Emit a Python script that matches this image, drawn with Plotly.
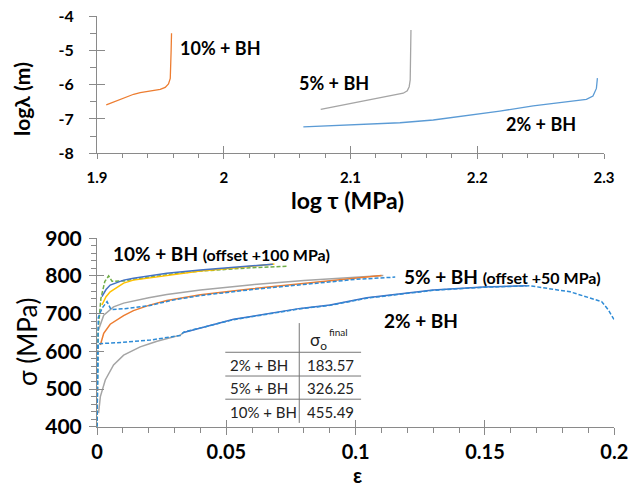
import plotly.graph_objects as go

FONT = "Lato"
AX = "#8a8a8a"

# ---------------- top panel: log tau vs log lambda ----------------
tau_10 = [1.9073, 1.9131, 1.9184, 1.9236, 1.9289, 1.9341, 1.9394, 1.9446, 1.9499, 1.9538, 1.9564, 1.9578, 1.9583, 1.9585, 1.9588]
lam_10 = [-6.59, -6.51, -6.43, -6.35, -6.28, -6.23, -6.20, -6.17, -6.14, -6.08, -5.98, -5.82, -5.48, -4.99, -4.50]

tau_5 = [2.0765, 2.0996, 2.1259, 2.1416, 2.1448, 2.1463, 2.1471, 2.1474, 2.1477]
lam_5 = [-6.72, -6.56, -6.38, -6.25, -6.18, -6.06, -5.86, -5.48, -4.41]

tau_2 = [2.0628, 2.0996, 2.1390, 2.1653, 2.1916, 2.2178, 2.2441, 2.2704, 2.2861, 2.2913, 2.2940, 2.2948]
lam_2 = [-7.23, -7.18, -7.11, -7.03, -6.91, -6.77, -6.62, -6.50, -6.43, -6.33, -6.11, -5.81]

top_xticks = [1.9, 2.0, 2.1, 2.2, 2.3]
top_xticktext = ["1.9", "2", "2.1", "2.2", "2.3"]
top_yticks = [-8, -7, -6, -5, -4]
top_yticktext = ["-8", "-7", "-6", "-5", "-4"]

# ---------------- bottom panel: strain vs stress ----------------
# 10% + BH (offset +100 MPa)
e10_modA = [0.0019, 0.0035, 0.0051, 0.0103, 0.0141, 0.027, 0.0399, 0.0528, 0.068]
s10_modA = [745, 764, 776, 789, 794, 807, 816, 823, 831]
e10_modB = [0.0019, 0.0035, 0.0051, 0.0103, 0.0141, 0.027, 0.0399, 0.0528, 0.0686]
s10_modB = [723, 745, 758, 781, 789, 802, 813, 821, 832]
e10_exp = [0, 0.0004, 0.0015, 0.003, 0.0045, 0.0058, 0.0103, 0.0141, 0.02, 0.03, 0.04, 0.05, 0.06, 0.074]
s10_exp = [400, 650, 740, 785, 800, 786, 787, 791, 797, 806, 813, 818, 822, 826]

# 5% + BH (offset +50 MPa)
e5_modA = [0.0006, 0.0026, 0.0064, 0.0103, 0.02, 0.027, 0.04, 0.06, 0.08, 0.1, 0.1107]
s5_modA = [657, 696, 718, 728, 742, 751, 763, 777, 788, 796, 801]
e5_modB = [0.0013, 0.0026, 0.0051, 0.0077, 0.0103, 0.0141, 0.02, 0.027, 0.04, 0.06, 0.08, 0.1, 0.11]
s5_modB = [617, 648, 672, 684, 695, 708, 722, 735, 750, 766, 780, 793, 801]
e5_exp = [0, 0.0005, 0.002, 0.0039, 0.0054, 0.0103, 0.015, 0.02, 0.03, 0.04, 0.06, 0.08, 0.1, 0.1153]
s5_exp = [400, 690, 715, 732, 711, 713, 717, 721, 737, 748, 764, 778, 791, 797]

# 2% + BH
e2_modA = [0.0006, 0.0013, 0.0032, 0.0064, 0.0103, 0.0167, 0.0206, 0.0232, 0.0322, 0.0335]
s2_modA = [436, 480, 524, 564, 590, 612, 621, 627, 643, 650]
e2_modB = [0.0335, 0.0464, 0.0528, 0.0786, 0.0901, 0.1043, 0.13, 0.1494, 0.1661]
s2_modB = [650, 674, 685, 714, 723, 742, 763, 771, 774]
e2_exp = [0, 0.0004, 0.01, 0.0206, 0.0283, 0.0322, 0.0335, 0.0464, 0.0528, 0.0786, 0.0901, 0.1043, 0.13, 0.1494, 0.1674, 0.1829, 0.1951, 0.1977, 0.2]
s2_exp = [400, 620, 624, 630, 638, 642, 651, 673, 684, 713, 722, 741, 762, 770, 774, 758, 732, 710, 683]

table_rows = ["2% + BH", "5% + BH", "10% + BH"]
table_vals = ["183.57", "326.25", "455.49"]

fig = go.Figure()


def add(x, y, color, xa, ya, dash=None, width=1.5):
    fig.add_trace(go.Scatter(x=x, y=y, mode="lines",
                             line=dict(color=color, width=width, dash=dash),
                             xaxis=xa, yaxis=ya, showlegend=False, hoverinfo="skip"))


# top
add(tau_10, lam_10, "#ED7D31", "x", "y", width=1.3)
add(tau_5, lam_5, "#A5A5A5", "x", "y", width=1.3)
add(tau_2, lam_2, "#5B9BD5", "x", "y", width=1.3)

DASH = "4px,2px"
BLUE_D = "#2E8BD6"
# bottom
add(e10_exp, s10_exp, "#70AD47", "x2", "y2", dash=DASH)
add(e5_modA, s5_modA, "#A5A5A5", "x2", "y2")
add(e5_modB, s5_modB, "#ED7D31", "x2", "y2")
add(e5_exp, s5_exp, BLUE_D, "x2", "y2", dash=DASH)
add(e2_modA, s2_modA, "#A5A5A5", "x2", "y2")
add(e2_modB, s2_modB, "#4472C4", "x2", "y2")
add(e2_exp, s2_exp, BLUE_D, "x2", "y2", dash=DASH)
add(e10_modB, s10_modB, "#FFC000", "x2", "y2")
add(e10_modA, s10_modA, "#4472C4", "x2", "y2")

# dummy traces for overlay (inside tick) axes
fig.add_trace(go.Scatter(x=[None], y=[None], xaxis="x3", yaxis="y3", showlegend=False, hoverinfo="skip"))
fig.add_trace(go.Scatter(x=[None], y=[None], xaxis="x4", yaxis="y4", showlegend=False, hoverinfo="skip"))

W, H = 631, 489
def px(v): return v / W
def py(v): return 1 - v / H

base = dict(showline=True, linecolor=AX, linewidth=1, showgrid=False, zeroline=False,
            tickcolor=AX, tickwidth=1, ticks="outside", automargin=False)
inner = dict(showline=False, showgrid=False, zeroline=False, showticklabels=False,
             ticks="inside", tickcolor=AX, tickwidth=1, automargin=False)

top_dom_x = [px(97), px(604)]
top_dom_y = [py(153.3), py(16)]
bot_dom_x = [px(97), px(614.3)]
bot_dom_y = [py(426.7), py(238.3)]

fig.update_layout(
    width=W, height=H, margin=dict(l=0, r=0, t=0, b=0, pad=0),
    paper_bgcolor="white", plot_bgcolor="white",
    font=dict(family=FONT, color="black"),
    xaxis=dict(base, domain=top_dom_x, anchor="y", range=[1.9, 2.3],
               tickmode="array", tickvals=top_xticks, ticktext=top_xticktext, ticklen=5,
               ticklabelstandoff=6,
               tickfont=dict(family=FONT, size=15, color="black", weight="bold"),
               minor=dict(tickmode="linear", tick0=1.9, dtick=0.02, ticks="outside", ticklen=4, tickcolor=AX)),
    yaxis=dict(base, domain=top_dom_y, anchor="x", range=[-8, -4],
               tickmode="array", tickvals=top_yticks, ticktext=top_yticktext, ticklen=7,
               ticklabelstandoff=12,
               tickfont=dict(family=FONT, size=16, color="black", weight="bold"),
               minor=dict(tickmode="linear", tick0=-8, dtick=0.5, ticks="outside", ticklen=6, tickcolor=AX)),
    xaxis3=dict(inner, overlaying="x", anchor="y", range=[1.9, 2.3], tickmode="array", tickvals=top_xticks, ticklen=7),
    yaxis3=dict(inner, overlaying="y", anchor="x", range=[-8, -4], tickmode="array", tickvals=top_yticks, ticklen=8),
    xaxis2=dict(base, domain=bot_dom_x, anchor="y2", range=[0, 0.2],
                tickmode="linear", tick0=0, dtick=0.05, ticklen=7, ticklabelstandoff=0,
                tickfont=dict(family=FONT, size=20, color="black", weight="bold"),
                minor=dict(tickmode="linear", tick0=0, dtick=0.01, ticks="outside", ticklen=5, tickcolor=AX)),
    yaxis2=dict(base, domain=bot_dom_y, anchor="x2", range=[400, 900],
                tickmode="linear", tick0=400, dtick=100, ticklen=7, ticklabelstandoff=3,
                tickfont=dict(family=FONT, size=21, color="black", weight="bold"),
                minor=dict(tickmode="linear", tick0=400, dtick=20, ticks="outside", ticklen=5, tickcolor=AX)),
    xaxis4=dict(inner, overlaying="x2", anchor="y2", range=[0, 0.2], tickmode="linear", tick0=0, dtick=0.05, ticklen=7),
    yaxis4=dict(inner, overlaying="y2", anchor="x2", range=[400, 900], tickmode="linear", tick0=400, dtick=100, ticklen=7),
)

ann = []
C = dict(xref="paper", yref="paper", showarrow=False, xanchor="center", yanchor="middle")
# axis titles
ann.append(dict(C, text="<b>log τ (MPa)</b>", x=px(347), y=py(200), font=dict(size=23, family=FONT)))
ann.append(dict(C, text="<b>logλ (m)</b>", x=px(22), y=py(99), textangle=-90, font=dict(size=21, family=FONT)))
ann.append(dict(C, text="σ (MPa)", x=px(27), y=py(342), textangle=-90, font=dict(size=26, family=FONT)))
ann.append(dict(C, text="<b>ε</b>", x=px(357), y=0.002, yanchor="bottom", borderpad=0,
                font=dict(size=20, family=FONT)))

# top labels
L = dict(showarrow=False, xanchor="left", yanchor="middle")
ann.append(dict(L, text="<b>10% + BH</b>", x=1.964, y=-4.94, xref="x", yref="y", font=dict(size=18, family=FONT)))
ann.append(dict(L, text="<b>5% + BH</b>", x=2.0576, y=-5.94, xref="x", yref="y", font=dict(size=18, family=FONT)))
ann.append(dict(L, text="<b>2% + BH</b>", x=2.221, y=-7.15, xref="x", yref="y", font=dict(size=18, family=FONT)))

# bottom labels
ann.append(dict(L, text="<b>10% + BH <span style='font-size:16px'>(offset +100 MPa)</span></b>",
                x=0.0055, y=860, xref="x2", yref="y2", font=dict(size=19, family=FONT)))
ann.append(dict(L, text="<b>5% + BH <span style='font-size:16px'>(offset +50 MPa)</span></b>",
                x=0.1179, y=798, xref="x2", yref="y2", font=dict(size=19, family=FONT)))
ann.append(dict(L, text="<b>2% + BH</b>", x=0.1101, y=683, xref="x2", yref="y2", font=dict(size=19, family=FONT)))

# table
row_y = [563.7, 502, 440]
for lab, val, yy in zip(table_rows, table_vals, row_y):
    ann.append(dict(L, text=lab, x=0.0508, y=yy, xref="x2", yref="y2",
                    font=dict(size=15, family=FONT, color="#222")))
    ann.append(dict(L, text=val, x=0.0902, y=yy, xref="x2", yref="y2", xanchor="center",
                    font=dict(size=15, family=FONT, color="#222")))
ann.append(dict(L, text="σ<sub>o</sub>", x=0.0855, y=628, xref="x2", yref="y2", xanchor="center",
                font=dict(size=17, family=FONT, color="#222")))
ann.append(dict(L, text="final", x=0.0935, y=652, xref="x2", yref="y2", xanchor="center",
                font=dict(size=10, family=FONT, color="#222")))
fig.update_layout(annotations=ann)

TL = "#777777"
shapes = [dict(type="line", xref="x2", yref="y2", x0=0.0782, x1=0.0782, y0=410, y1=675,
               line=dict(color=TL, width=1))]
for yy in [597.5, 534.5, 473]:
    shapes.append(dict(type="line", xref="x2", yref="y2", x0=0.0496, x1=0.1021, y0=yy, y1=yy,
                       line=dict(color=TL, width=1)))
fig.update_layout(shapes=shapes)

fig.write_html("out.html", config={"displayModeBar": False},
               post_script="document.body.style.margin='0';document.body.style.padding='0';")
